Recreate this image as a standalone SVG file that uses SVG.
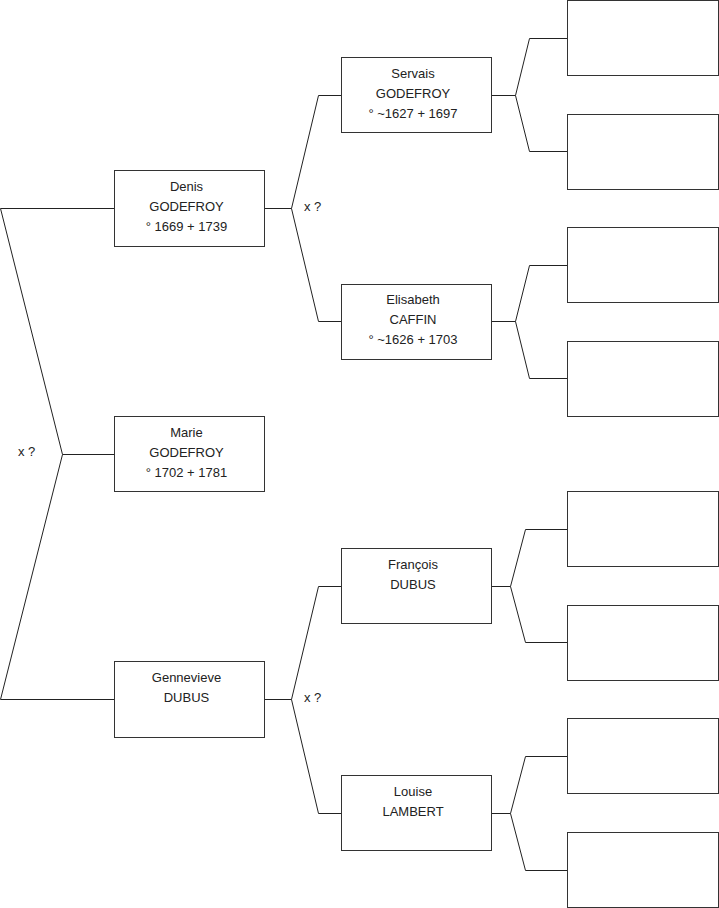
<svg xmlns="http://www.w3.org/2000/svg" width="719" height="908" viewBox="0 0 719 908">
<style>
.box{fill:#fff;stroke:#333;stroke-width:1}
.ln{fill:none;stroke:#222;stroke-width:1}
text{font-family:"Liberation Sans",Arial,sans-serif;font-size:13px;fill:#222;text-anchor:middle}
.lbl{text-anchor:start}
</style>
<rect width="719" height="908" fill="#fff"/>
<g id="connectors">
<path class="ln" d="M114.5,208.5 H0.5 L62.5,454.5 L0.5,699.5 H114.5 M62.5,454.5 H114.5"/>
<path class="ln" d="M265,208.5 H291.5 L318.5,95.5 H341 M291.5,208.5 L318.5,321.5 H341"/>
<path class="ln" d="M265,699.5 H291.5 L318.5,586.5 H341 M291.5,699.5 L318.5,813.5 H341"/>
<path class="ln" d="M492,95.5 H515.5 L529.5,38.5 H567 M515.5,95.5 L529.5,151.5 H567"/>
<path class="ln" d="M492,321.5 H515.5 L529.5,265.5 H567 M515.5,321.5 L529.5,378.5 H567"/>
<path class="ln" d="M492,586.5 H510.5 L525.5,529.5 H567 M510.5,586.5 L525.5,642.5 H567"/>
<path class="ln" d="M492,813.5 H510.5 L525.5,756.5 H567 M510.5,813.5 L525.5,870.5 H567"/>
<text class="lbl" x="18" y="456">x ?</text>
<text class="lbl" x="304" y="211">x ?</text>
<text class="lbl" x="304" y="702">x ?</text>
</g>
<g id="denis"><rect class="box" x="114.5" y="170.5" width="150" height="76"/><text x="186.5" y="191">Denis</text><text x="186.5" y="211">GODEFROY</text><text x="186.5" y="231">° 1669 + 1739</text></g>
<g id="marie"><rect class="box" x="114.5" y="416.5" width="150" height="75"/><text x="186.5" y="437">Marie</text><text x="186.5" y="457">GODEFROY</text><text x="186.5" y="477">° 1702 + 1781</text></g>
<g id="gennevieve"><rect class="box" x="114.5" y="661.5" width="150" height="76"/><text x="186.5" y="682">Gennevieve</text><text x="186.5" y="702">DUBUS</text></g>
<g id="servais"><rect class="box" x="341.5" y="57.5" width="150" height="75"/><text x="413" y="78">Servais</text><text x="413" y="98">GODEFROY</text><text x="413" y="118">° ~1627 + 1697</text></g>
<g id="elisabeth"><rect class="box" x="341.5" y="284.5" width="150" height="75"/><text x="413" y="304">Elisabeth</text><text x="413" y="324">CAFFIN</text><text x="413" y="344">° ~1626 + 1703</text></g>
<g id="francois"><rect class="box" x="341.5" y="548.5" width="150" height="75"/><text x="413" y="569">François</text><text x="413" y="589">DUBUS</text></g>
<g id="louise"><rect class="box" x="341.5" y="775.5" width="150" height="75"/><text x="413" y="796">Louise</text><text x="413" y="816">LAMBERT</text></g>
<g id="p1"><rect class="box" x="567.5" y="0.5" width="151" height="75"/></g>
<g id="p2"><rect class="box" x="567.5" y="114.5" width="151" height="75"/></g>
<g id="p3"><rect class="box" x="567.5" y="227.5" width="151" height="75"/></g>
<g id="p4"><rect class="box" x="567.5" y="341.5" width="151" height="75"/></g>
<g id="p5"><rect class="box" x="567.5" y="491.5" width="151" height="75"/></g>
<g id="p6"><rect class="box" x="567.5" y="605.5" width="151" height="75"/></g>
<g id="p7"><rect class="box" x="567.5" y="718.5" width="151" height="75"/></g>
<g id="p8"><rect class="box" x="567.5" y="832.5" width="151" height="75"/></g>
</svg>
